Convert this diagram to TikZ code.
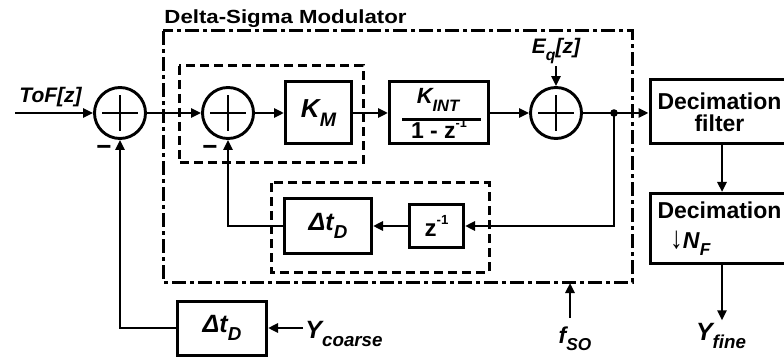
\documentclass[tikz,border=0pt]{standalone}
\usepackage{fontspec}
\setmainfont{Liberation Sans}
\newfontfamily\wideface[FakeStretch=1.17]{Liberation Sans}
\usetikzlibrary{arrows.meta}
\newcommand\lsub[1]{\raisebox{-0.32em}{\scalebox{0.75}{#1}}}
\newcommand\lsup[1]{\raisebox{0.5em}{\scalebox{0.55}{#1}}}
\newcommand\fsz[1]{\fontsize{#1}{#1}\selectfont}
\begin{document}
\begin{tikzpicture}[x=1pt,y=-1pt,line width=2.9pt,
  >={Triangle[length=10pt,width=9pt]},
  box/.style={draw,rectangle,inner sep=0pt,line width=3pt},
  summer/.style={draw,circle,minimum size=51pt,inner sep=0pt,line width=2.9pt,
    path picture={\draw[line width=2.9pt]
      ([xshift=-18pt]path picture bounding box.center) -- ([xshift=18pt]path picture bounding box.center)
      ([yshift=-18pt]path picture bounding box.center) -- ([yshift=18pt]path picture bounding box.center);}},
  lab/.style={inner sep=1pt,font=\bfseries\itshape},
  dashdot/.style={line width=3pt,dash pattern=on 14pt off 4pt on 4pt off 4pt},
  dashbox/.style={line width=3pt,dash pattern=on 9pt off 5pt},
]
\useasboundingbox (0,0) rectangle (784,358);
\clip (0,0) rectangle (784,358);

% frames
\node[anchor=base west,inner sep=0pt,font=\wideface\bfseries\fsz{19}] (title) at (163,24) {Delta-Sigma Modulator};
\draw[dashdot] (163,31) rectangle (632,282);
\draw[dashbox] (179,66) rectangle (363,163);
\draw[dashbox] (271,183) rectangle (489,272);

% main row
\node[summer] (s1) at (120,113) {};
\node[summer] (s2) at (228,113) {};
\node[summer] (s3) at (556,113) {};
\node[box,minimum width=66pt,minimum height=62pt,font=\bfseries\itshape\fsz{26}] (km) at (318.5,113) {K\lsub{M}};
\node[box,minimum width=99pt,minimum height=62pt] (kint) at (439,113) {};
\node[lab,font=\bfseries\itshape\fsz{22},anchor=base] (knum) at (438,104) {K\lsub{INT}};
\node[inner sep=1pt,font=\bfseries\fsz{23},anchor=base] (kden) at (439,139) {1 - z\lsup{-1}};
\draw[line width=3pt] ([xshift=14pt]kint.west |- 0,120) -- ([xshift=-9pt]kint.east |- 0,120);
\node[box,minimum width=139pt,minimum height=64pt,align=center,font=\bfseries\fsz{23}] (decf) at (719.5,112) {Decimation\\[-1pt]filter};
\node[box,minimum width=139pt,minimum height=70pt,align=center,font=\bfseries\fsz{23}] (decn) at (719.5,228.5) {Decimation\\[7pt]{\mdseries\scalebox{1.1}[1.35]{↓}}\textit{N}\lsub{\textit{F}}\kern 58pt};

% feedback blocks
\node[box,minimum width=54pt,minimum height=43pt,font=\bfseries\fsz{24}] (z1) at (436.5,226) {z\lsup{-1}};
\node[box,minimum width=87pt,minimum height=55pt,font=\bfseries\itshape\fsz{25}] (dt1) at (328,226) {Δt\lsub{D}};
\node[box,minimum width=89pt,minimum height=54pt,font=\bfseries\itshape\fsz{25}] (dt2) at (222,328) {Δt\lsub{D}};

% labels
\node[lab,font=\bfseries\itshape\fsz{21},anchor=base west] (tof) at (17,103) {ToF[z]};
\node[lab,font=\bfseries\itshape\fsz{21},anchor=base] (eq) at (556,54) {E\lsub{q}[z]};
\node[lab,font=\bfseries\itshape\fsz{25},anchor=base west] (yc) at (303,338) {Y\lsub{coarse}};
\node[lab,font=\bfseries\itshape\fsz{23},anchor=base] (fso) at (575,343) {f\lsub{SO}};
\node[lab,font=\bfseries\itshape\fsz{25},anchor=base] (yf) at (721,340) {Y\lsub{fine}};
\node[inner sep=0pt,font=\bfseries\fsz{26}] (m1) at (104,150) {−};
\node[inner sep=0pt,font=\bfseries\fsz{26}] (m2) at (210,150) {−};

\coordinate (in) at (15,113);
\coordinate (tap) at (614,113);
\coordinate (fsotail) at (570,318);
\coordinate (fsohead) at (570,283);

% connectors
\draw[->] (in) -- (s1.west);
\draw[->] (s1.east) -- (s2.west);
\draw[->] (s2.east) -- (km.west);
\draw[->] (km.east) -- (kint.west);
\draw[->] (kint.east) -- (s3.west);
\draw[->] (s3.east) -- (s3.east -| decf.west);
\draw[->] (eq.south) -- (s3.north);
\fill (tap) circle (3.8pt);
\draw[->] (tap) |- (z1.east);
\draw[->] (z1.west) -- (dt1.east);
\draw[->] (dt1.west) -| (s2.south);
\draw[->] (dt2.east -| yc.west) -- (dt2.east);
\draw[->] (dt2.west) -| (s1.south);
\draw[->] (fsotail) -- (fsohead);
\draw[->] ([xshift=2.5pt]decf.south) -- ([xshift=2.5pt]decn.north);
\draw[->] ([xshift=2.5pt]decn.south) -- ([xshift=2.5pt]decn.south |- yf.north);
\end{tikzpicture}
\end{document}
